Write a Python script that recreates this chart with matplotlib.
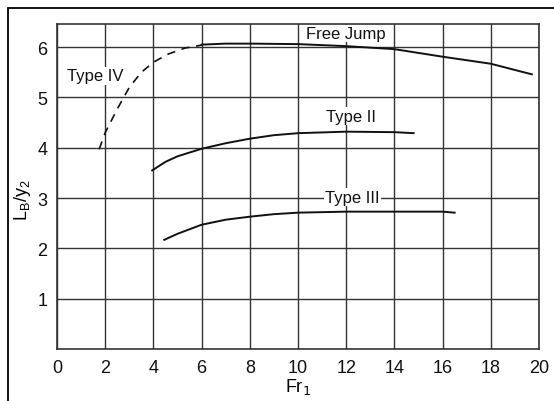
import matplotlib.pyplot as plt
from matplotlib.patches import Rectangle

plt.rcParams['font.family'] = ['Liberation Sans', 'DejaVu Sans']

# curves
free_x = [6.0, 7.0, 8.0, 10.0, 12.0, 14.0, 16.0, 18.0, 19.7]
free_y = [6.05, 6.07, 6.07, 6.06, 6.02, 5.96, 5.81, 5.67, 5.46]

type4_x = [1.75, 2.0, 2.5, 3.0, 3.5, 4.0, 4.6, 5.3, 6.0]
type4_y = [3.97, 4.3, 4.77, 5.2, 5.5, 5.7, 5.86, 5.98, 6.04]

type2_x = [3.95, 4.5, 5.0, 6.0, 7.0, 8.0, 9.0, 10.0, 12.0, 14.0, 14.8]
type2_y = [3.55, 3.72, 3.83, 3.98, 4.09, 4.18, 4.25, 4.29, 4.32, 4.31, 4.29]

type3_x = [4.45, 5.0, 6.0, 7.0, 8.0, 9.0, 10.0, 12.0, 14.0, 16.0, 16.5]
type3_y = [2.17, 2.29, 2.47, 2.57, 2.63, 2.68, 2.71, 2.73, 2.73, 2.73, 2.71]

labels = ['Free Jump', 'Type II', 'Type III', 'Type IV']
label_x = [12.0, 12.2, 12.25, 1.6]
label_y = [6.27, 4.63, 3.02, 5.43]

fig = plt.figure(figsize=(5.54, 4.02), dpi=100)
ax = fig.add_axes([57 / 554, 1 - 350 / 402, (539 - 57) / 554, (350 - 25) / 402])

# outer frame (cut off at right and bottom)
fig.patches.append(Rectangle((8 / 554, -0.05), 1.1, 1 - 9 / 402 + 0.05,
                             transform=fig.transFigure, fill=False,
                             edgecolor='black', linewidth=1.3))

ax.plot(free_x, free_y, color='#111111', lw=1.4)
ax.plot(type4_x, type4_y, color='#111111', lw=1.2, linestyle=(0, (5, 4)))
ax.plot(type2_x, type2_y, color='#111111', lw=1.4)
ax.plot(type3_x, type3_y, color='#111111', lw=1.4)

for t, x, y in zip(labels, label_x, label_y):
    ax.text(x, y, t, ha='center', va='center', fontsize=12, color='#111111',
            bbox=dict(facecolor='white', edgecolor='none', pad=1.0), zorder=5)

ax.set_xlim(0, 20)
ax.set_ylim(0, 6.46)
ax.set_xticks(range(0, 21, 2))
ax.set_yticks(range(1, 7))
ax.grid(True, color='#333333', lw=1.0)
ax.set_axisbelow(True)
for s in ax.spines.values():
    s.set_color('#333333')
    s.set_linewidth(1.2)
ax.tick_params(length=0, labelsize=13, pad=7, colors='#111111')

ax.set_xlabel('Fr$_1$', fontsize=13)
ax.set_ylabel('L$_\\mathregular{B}$/y$_\\mathregular{2}$', fontsize=13)
ax.xaxis.set_label_coords(0.5, -0.083)
ax.yaxis.set_label_coords(-0.05, 0.46)

fig.savefig('out.png', dpi=100)
